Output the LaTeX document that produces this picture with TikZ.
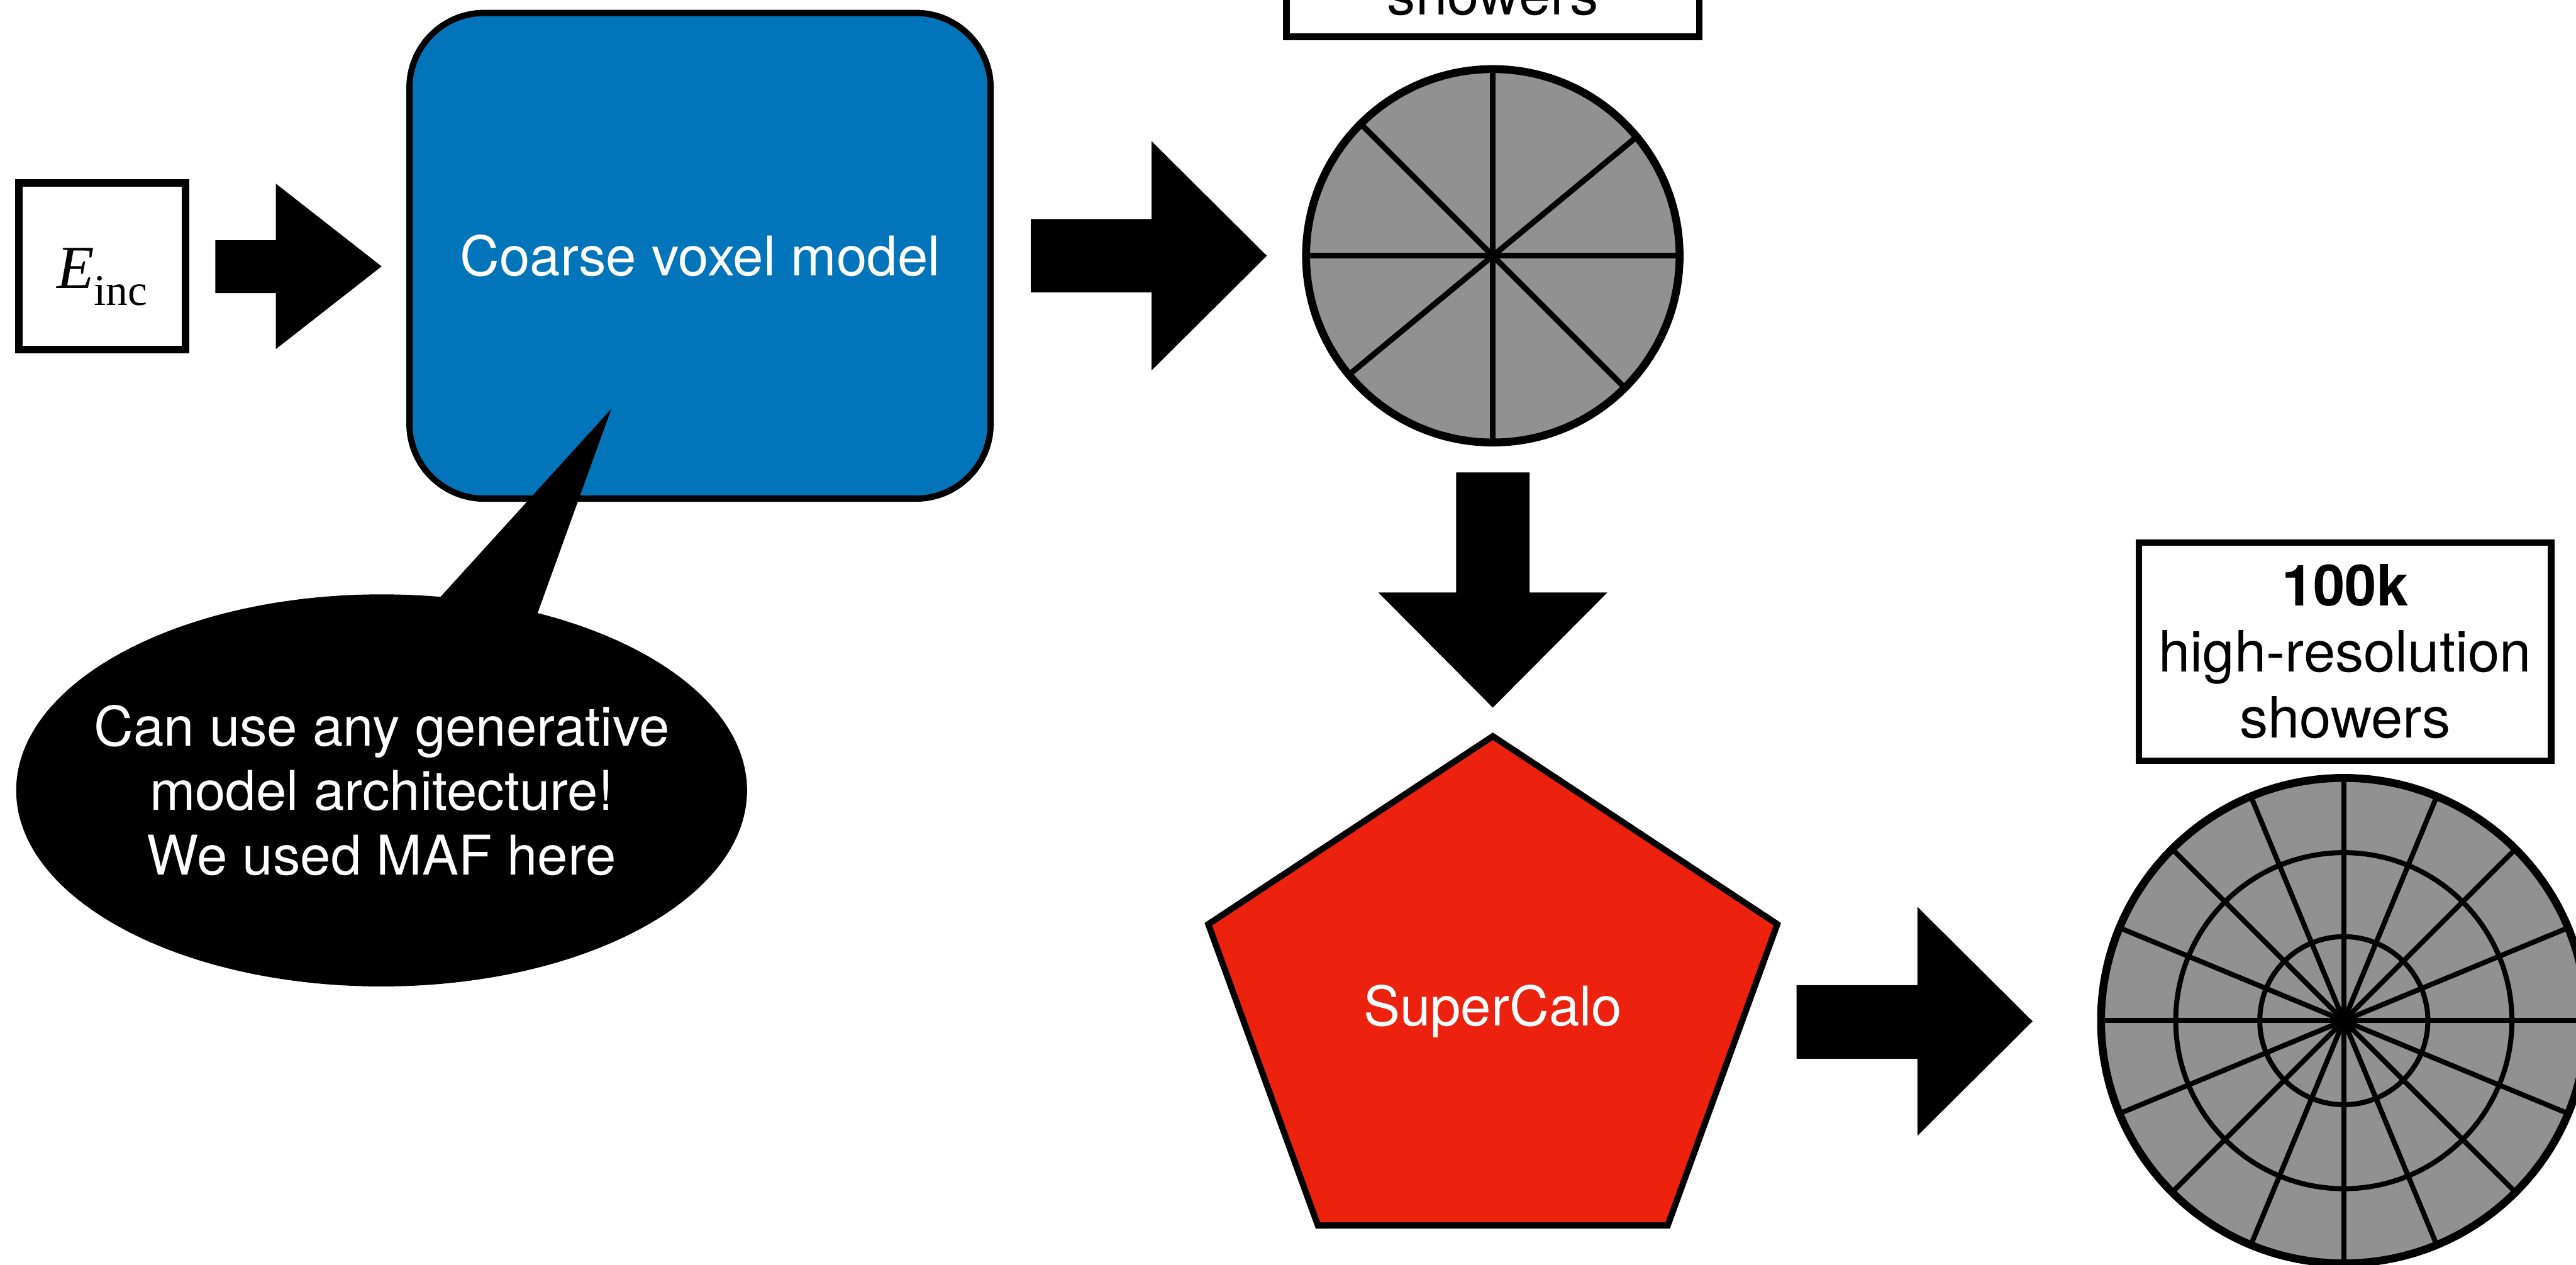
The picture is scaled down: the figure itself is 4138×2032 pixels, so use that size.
\documentclass[tikz,border=0pt]{standalone}
\usepackage{fontspec}
\setmainfont{TeX Gyre Heros}
\newfontfamily\energyfont{Liberation Serif}
\usetikzlibrary{calc}

\definecolor{voxelblue}{RGB}{1,116,186}
\definecolor{calored}{RGB}{236,33,14}
\definecolor{cellgray}{RGB}{145,145,145}

\tikzset{
  blockarrow/.style={fill=black},
  framebox/.style={draw=black, line width=3pt, fill=white, inner sep=0pt},
  bodytext/.style={font=\fontsize{25}{29.45}\selectfont},
  boxtext/.style={font=\fontsize{26}{30.2}\selectfont},
  spoke/.style={line width=2.6pt},
  finespoke/.style={line width=2.3pt},
  rim/.style={line width=3.6pt},
}

\begin{document}
\begin{tikzpicture}[x=0.01cm,y=-0.01cm]
\useasboundingbox (0,0) rectangle (4138,2032);
\clip (0,0) rectangle (4138,2032);

% ---- input energy ----
\node[framebox, line width=3.5pt, minimum width=2.68cm, minimum height=2.68cm,
      text height=0.97cm, text depth=0.27cm] (einc) at (164,428)
  {\energyfont\fontsize{28}{28}\selectfont\itshape E\raisebox{-0.27cm}{\upshape\fontsize{20}{20}\selectfont inc}};

\fill[blockarrow] (346,386) -- (443,386) -- (443,295) -- (613,428)
  -- (443,561) -- (443,471) -- (346,471) -- cycle;

% ---- coarse model ----
\node[rectangle, rounded corners=1.2cm, fill=voxelblue, draw=black, line width=2.85pt,
      minimum width=9.33cm, minimum height=7.80cm, text=white, bodytext] (coarse)
  at (1124.5,411) {Coarse voxel model};

% ---- speech bubble ----
\coordinate (tip) at (982,657);
\fill[black] (tip) -- (679.5,990) -- (851,1020) -- cycle;
\fill[black] (613,1270) ellipse [x radius=587, y radius=315];
\node[text=white, align=center, bodytext] (bubble) at (613,1270)
  {Can use any generative\\model architecture!\\We used MAF here};

\fill[blockarrow] (1656,352) -- (1850,352) -- (1850,227) -- (2035,411)
  -- (1850,595) -- (1850,470) -- (1656,470) -- cycle;

% ---- coarse showers ----
\node[framebox, minimum width=6.63cm, text height=2.9cm, text depth=0pt,
      inner ysep=0.35cm, anchor=base, boxtext] (coarseset) at (2398,24) {showers};

\coordinate (cc) at (2398,411);
\fill[cellgray] (cc) circle[radius=300];
\begin{scope}[shift={(cc)}]
  \foreach \a in {0,90,-39.6,45}
    \draw[spoke] (\a:300) -- (\a+180:300);
\end{scope}
\draw[rim] (cc) circle[radius=300];

\fill[blockarrow] (2339,759) -- (2457,759) -- (2457,952) -- (2582,952)
  -- (2398,1137) -- (2214,952) -- (2339,952) -- cycle;

% ---- super-resolution model ----
\filldraw[fill=calored, draw=black, line width=2.85pt, line join=miter]
  (2398,1183) -- (2855,1485) -- (2679,1969) -- (2117,1969) -- (1941,1485) -- cycle;
\node[anchor=base, text=white, bodytext] (supercalo) at (2398,1648) {SuperCalo};

\fill[blockarrow] (2886,1583) -- (3080,1583) -- (3080,1457) -- (3265,1641)
  -- (3080,1825) -- (3080,1701) -- (2886,1701) -- cycle;

% ---- fine showers ----
\node[framebox, minimum width=6.62cm, minimum height=3.5cm, align=center, boxtext]
  (fineset) at (3767,1047) {\textbf{100k}\\high-resolution\\showers};

\coordinate (fc) at (3765,1640);
\fill[cellgray] (fc) circle[radius=390];
\begin{scope}[shift={(fc)}]
  \foreach \k in {0,...,7}
    \draw[finespoke] (\k*22.5:390) -- (\k*22.5+180:390);
  \draw[finespoke] (0,0) circle[radius=135];
  \draw[finespoke] (0,0) circle[radius=270];
\end{scope}
\draw[rim] (fc) circle[radius=390];

\end{tikzpicture}
\end{document}
